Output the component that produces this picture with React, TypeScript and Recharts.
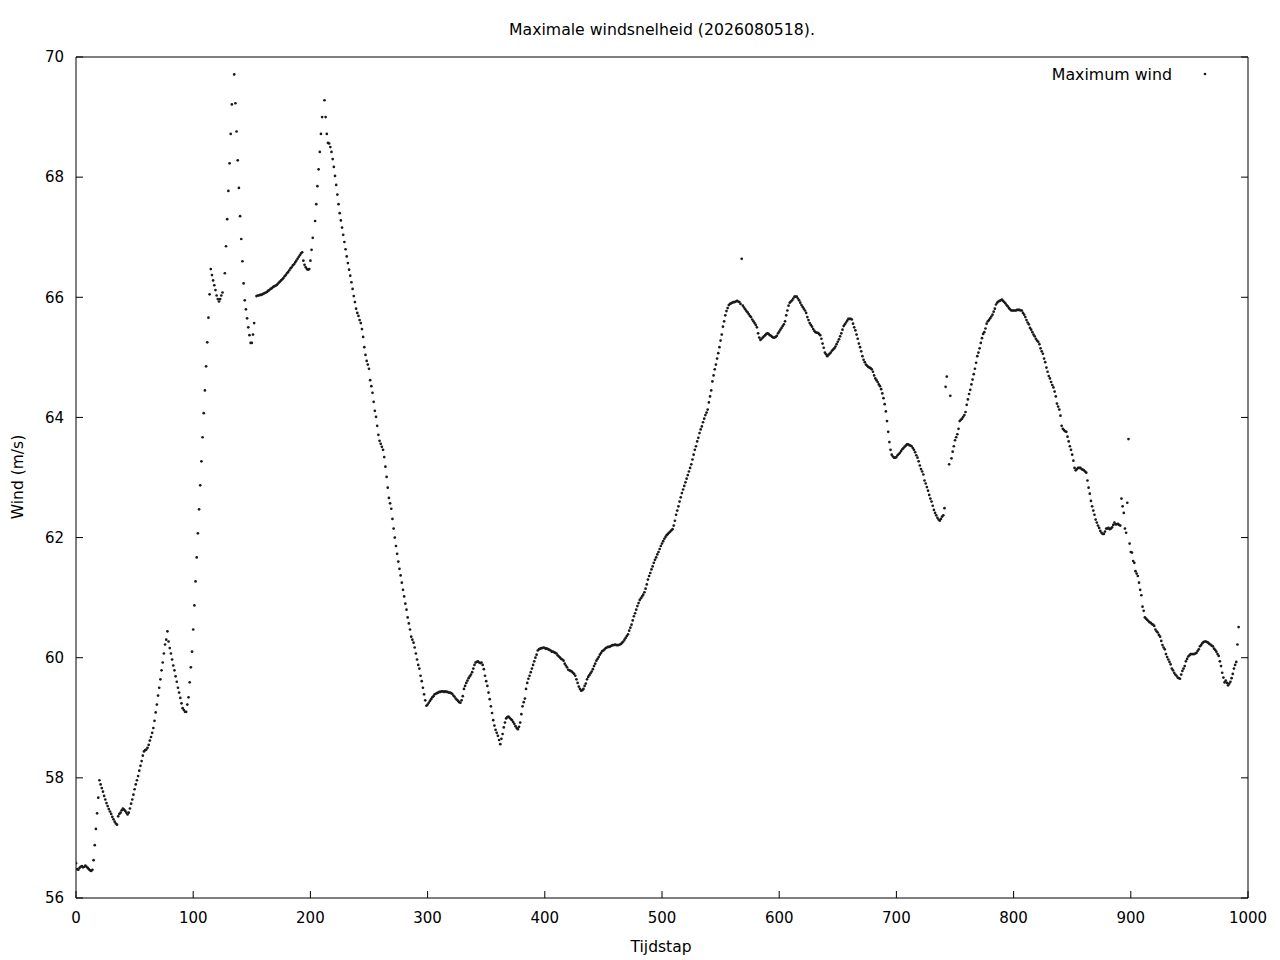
import React from "react";
import { ScatterChart, Scatter, XAxis, YAxis } from "recharts";

// Time-step of the first value in windValues
const firstStep = 0;

// Maximum wind (m/s) per time step; null = no point drawn at that step
const windValues: (number | null)[] = [
  56.58, 56.48, 56.47, 56.50, 56.52, 56.53, 56.51, 56.52, 56.54, 56.52,
  56.50, 56.48, 56.46, 56.45, 56.47, 56.63, 56.88, 57.15, 57.41, 57.67,
  57.96, 57.89, 57.83, 57.77, 57.70, 57.64, 57.58, 57.53, 57.48, 57.44,
  57.40, 57.35, 57.31, 57.27, 57.24, 57.22, 57.36, 57.40, 57.42, 57.46,
  57.49, 57.47, 57.45, 57.42, 57.39, 57.42, 57.49, 57.57, 57.64, 57.72,
  57.81, 57.89, 57.96, 58.03, 58.12, 58.20, 58.28, 58.37, 58.44, 58.46,
  58.47, 58.50, 58.55, 58.62, 58.68, 58.75, 58.83, 58.95, 59.09, 59.22,
  59.37, 59.50, 59.64, 59.79, 59.92, 60.07, 60.22, 60.30, 60.44, 60.27,
  60.16, 60.07, 59.97, 59.87, 59.79, 59.69, 59.60, 59.50, 59.42, 59.33,
  59.24, 59.16, 59.13, 59.10, 59.10, 59.22, 59.34, 59.59, 59.84, 60.10,
  60.47, 60.87, 61.27, 61.67, 62.07, 62.47, 62.87, 63.27, 63.67, 64.07,
  64.45, 64.85, 65.25, 65.66, 66.05, 66.47, 66.37, 66.28, 66.20, 66.12,
  66.03, 65.97, 65.93, 65.97, 66.03, 66.08, null, 66.40, 66.85, 67.30,
  67.77, 68.23, 68.72, 69.21, null, 69.71, 69.23, 68.76, 68.28, 67.82,
  67.35, 66.97, 66.60, 66.23, 65.95, 65.80, 65.65, 65.50, 65.37, 65.24,
  65.24, 65.38, 65.57, null, 66.02, 66.03, 66.03, 66.04, 66.04, 66.05,
  66.06, 66.07, 66.08, 66.09, 66.11, 66.12, 66.14, 66.15, 66.17, 66.18,
  66.19, 66.20, 66.22, 66.24, 66.26, 66.28, 66.30, 66.32, 66.35, 66.37,
  66.40, 66.42, 66.45, 66.48, 66.50, 66.53, 66.55, 66.58, 66.61, 66.64,
  66.67, 66.70, 66.73, 66.75, 66.61, 66.54, 66.50, 66.47, 66.46, 66.47,
  66.61, 66.79, 66.99, null, 67.27, 67.55, 67.85, 68.13, 68.42, 68.72,
  69.00, null, 69.28, 69.00, 68.72, 68.57, 68.56, 68.50, 68.42, 68.30,
  68.17, 68.02, 67.87, 67.71, 67.55, 67.40, 67.28, 67.16, 67.04, 66.92,
  66.80, 66.68, 66.57, 66.46, 66.36, 66.25, 66.14, 66.02, 65.92, 65.81,
  65.74, 65.69, 65.62, 65.57, 65.47, 65.34, 65.17, 65.04, 64.94, 64.88,
  64.81, 64.62, 64.52, 64.41, 64.26, 64.11, 64.01, 63.86, 63.71, 63.61,
  63.56, 63.51, 63.46, 63.34, 63.18, 63.01, 62.83, 62.66, 62.57, 62.48,
  62.31, 62.15, 62.00, 61.86, 61.73, 61.60, 61.48, 61.37, 61.25, 61.13,
  61.02, 60.90, 60.80, 60.67, 60.57, 60.47, 60.35, 60.30, 60.25, 60.17,
  60.07, 59.97, 59.88, 59.82, 59.70, 59.61, 59.50, 59.39, 59.29, 59.20,
  59.22, 59.25, 59.28, 59.31, 59.34, 59.36, 59.39, 59.40, 59.41, 59.42,
  59.43, 59.43, 59.44, 59.44, 59.43, 59.44, 59.43, 59.43, 59.42, 59.42,
  59.41, 59.40, 59.37, 59.35, 59.32, 59.30, 59.28, 59.26, 59.25, 59.29,
  59.36, 59.48, 59.53, 59.58, 59.62, 59.66, 59.69, 59.72, 59.76, 59.82,
  59.88, 59.92, 59.93, 59.94, 59.92, 59.91, 59.92, 59.88, 59.81, 59.70,
  59.61, 59.53, 59.42, 59.31, 59.19, 59.08, 58.96, 58.87, 58.80, 58.75,
  58.70, 58.63, 58.56, 58.65, 58.73, 58.84, 58.92, 58.99, 59.01, 59.02,
  59.00, 58.98, 58.96, 58.93, 58.90, 58.86, 58.83, 58.81, 58.85, 58.92,
  59.06, 59.19, 59.26, 59.32, 59.48, 59.58, 59.65, 59.70, 59.76, 59.82,
  59.88, 59.94, 60.00, 60.05, 60.12, 60.14, 60.15, 60.16, 60.16, 60.17,
  60.16, 60.15, 60.15, 60.14, 60.13, 60.12, 60.10, 60.10, 60.09, 60.08,
  60.07, 60.04, 60.02, 60.00, 59.98, 59.97, 59.95, 59.90, 59.87, 59.84,
  59.80, 59.79, 59.78, 59.77, 59.75, 59.73, 59.70, 59.64, 59.58, 59.52,
  59.48, 59.45, 59.46, 59.48, 59.53, 59.57, 59.64, 59.68, 59.71, 59.74,
  59.77, 59.81, 59.86, 59.90, 59.95, 59.98, 60.01, 60.05, 60.08, 60.11,
  60.12, 60.14, 60.16, 60.17, 60.18, 60.18, 60.19, 60.20, 60.21, 60.21,
  60.22, 60.21, 60.21, 60.21, 60.22, 60.23, 60.25, 60.27, 60.30, 60.33,
  60.36, 60.39, 60.45, 60.50, 60.55, 60.62, 60.69, 60.74, 60.80, 60.86,
  60.91, 60.96, 60.99, 61.02, 61.05, 61.09, 61.15, 61.22, 61.30, 61.36,
  61.41, 61.47, 61.52, 61.58, 61.63, 61.67, 61.72, 61.76, 61.81, 61.86,
  61.90, 61.94, 61.98, 62.01, 62.04, 62.06, 62.08, 62.10, 62.12, 62.14,
  62.20, 62.28, 62.38, 62.45, 62.52, 62.60, 62.67, 62.74, 62.80, 62.86,
  62.92, 62.98, 63.04, 63.10, 63.16, 63.22, 63.30, 63.38, 63.46, 63.52,
  63.60, 63.66, 63.74, 63.80, 63.85, 63.92, 63.98, 64.04, 64.08, 64.13,
  64.25, 64.35, 64.45, 64.60, 64.70, 64.80, 64.88, 64.98, 65.07, 65.17,
  65.28, 65.38, 65.51, 65.60, 65.70, 65.77, 65.82, 65.87, 65.89, 65.90,
  65.91, 65.92, 65.92, 65.93, 65.94, 65.93, 65.92, 65.89, 66.64, 65.86,
  65.83, 65.80, 65.77, 65.75, 65.72, 65.69, 65.67, 65.63, 65.60, 65.57,
  65.54, 65.50, 65.40, 65.33, 65.29, 65.31, 65.33, 65.35, 65.37, 65.39,
  65.40, 65.39, 65.37, 65.36, 65.34, 65.33, 65.33, 65.34, 65.36, 65.40,
  65.43, 65.46, 65.49, 65.52, 65.55, 65.60, 65.70, 65.78, 65.86, 65.91,
  65.93, 65.95, 65.98, 66.01, 66.01, 66.01, 65.98, 65.95, 65.91, 65.87,
  65.84, 65.81, 65.78, 65.74, 65.67, 65.62, 65.57, 65.54, 65.51, 65.47,
  65.44, 65.42, 65.41, 65.41, 65.39, 65.37, 65.31, 65.23, 65.16, 65.08,
  65.05, 65.02, 65.04, 65.06, 65.08, 65.11, 65.13, 65.15, 65.18, 65.22,
  65.26, 65.30, 65.35, 65.40, 65.46, 65.52, 65.55, 65.58, 65.61, 65.64,
  65.64, 65.64, 65.63, 65.56, 65.50, 65.45, 65.38, 65.31, 65.23, 65.17,
  65.10, 65.02, 64.96, 64.92, 64.88, 64.86, 64.84, 64.83, 64.82, 64.80,
  64.76, 64.70, 64.65, 64.62, 64.59, 64.55, 64.52, 64.47, 64.40, 64.32,
  64.22, 64.10, 63.94, 63.76, 63.59, 63.46, 63.38, 63.35, 63.33, 63.33,
  63.34, 63.37, 63.39, 63.41, 63.44, 63.47, 63.49, 63.51, 63.53, 63.55,
  63.55, 63.54, 63.53, 63.52, 63.49, 63.46, 63.42, 63.37, 63.33, 63.27,
  63.20, 63.14, 63.10, 63.05, 62.95, 62.90, 62.84, 62.78, 62.71, 62.65,
  62.60, 62.53, 62.46, 62.41, 62.37, 62.33, 62.30, 62.28, 62.31, 62.35,
  62.37, 62.49, 64.51, 64.68, null, 63.22, 64.36, 63.32, 63.43, 63.52,
  63.62, 63.67, 63.72, 63.81, 63.94, 63.96, 63.98, 64.01, 64.04, 64.09,
  64.21, 64.30, 64.39, 64.46, 64.55, 64.63, 64.72, 64.81, 64.91, 65.02,
  65.08, 65.15, 65.24, 65.32, 65.39, 65.42, 65.48, 65.56, 65.60, 65.62,
  65.65, 65.68, 65.71, 65.76, 65.81, 65.88, 65.91, 65.93, 65.94, 65.95,
  65.96, 65.94, 65.92, 65.90, 65.87, 65.85, 65.82, 65.80, 65.78, 65.78,
  65.78, 65.78, 65.78, 65.79, 65.79, 65.79, 65.78, 65.78, 65.74, 65.71,
  65.67, 65.62, 65.58, 65.55, 65.49, 65.46, 65.42, 65.38, 65.35, 65.31,
  65.28, 65.26, 65.22, 65.15, 65.10, 65.06, 64.98, 64.92, 64.83, 64.76,
  64.69, 64.65, 64.59, 64.54, 64.50, 64.43, 64.35, 64.23, 64.18, 64.13,
  64.03, 63.86, 63.81, 63.79, 63.77, 63.76, 63.68, 63.60, 63.52, 63.46,
  63.38, 63.28, 63.16, 63.12, 63.14, 63.16, 63.16, 63.16, 63.14, 63.13,
  63.12, 63.10, 63.08, 62.95, 62.83, 62.73, 62.61, 62.52, 62.45, 62.38,
  62.30, 62.25, 62.20, 62.16, 62.11, 62.08, 62.06, 62.06, 62.10, 62.15,
  62.15, 62.16, 62.14, 62.15, 62.17, 62.21, 62.25, 62.22, 62.22, 62.23,
  62.21, 62.20, 62.65, 62.52, 62.41, 62.15, 62.08, 62.58, 63.64, 61.90,
  61.76, 61.75, 61.61, 61.58, 61.44, 61.40, 61.36, 61.25, 61.13, 61.04,
  60.85, 60.78, 60.67, 60.65, 60.63, 60.61, 60.59, 60.58, 60.56, 60.55,
  60.53, 60.47, 60.44, 60.42, 60.38, 60.35, 60.28, 60.21, 60.17, 60.14,
  60.06, 60.01, 59.97, 59.93, 59.89, 59.82, 59.79, 59.75, 59.72, 59.70,
  59.67, 59.66, 59.65, 59.72, 59.78, 59.82, 59.86, 59.94, 59.98, 60.02,
  60.04, 60.06, 60.06, 60.06, 60.06, 60.07, 60.08, 60.11, 60.14, 60.19,
  60.21, 60.24, 60.26, 60.27, 60.27, 60.26, 60.25, 60.23, 60.22, 60.20,
  60.19, 60.15, 60.13, 60.10, 60.06, 60.03, 59.94, 59.86, 59.75, 59.67,
  59.59, 59.62, 59.58, 59.54, 59.57, 59.60, 59.66, 59.73, 59.82, 59.88,
  59.93, 60.22, 60.51,
];

const xTicks = [0, 100, 200, 300, 400, 500, 600, 700, 800, 900, 1000];
const yTicks = [56, 58, 60, 62, 64, 66, 68, 70];

const titleText = "Maximale windsnelheid (2026080518).";
const xLabel = "Tijdstap";
const yLabel = "Wind (m/s)";
const seriesName = "Maximum wind";

type Pt = { x: number; y: number };
const data: Pt[] = windValues
  .map((v, i) => (v === null ? null : { x: firstStep + i, y: v }))
  .filter((p): p is Pt => p !== null);

const FONT = "'DejaVu Sans', 'Liberation Sans', sans-serif";
const tickStyle = { fill: "#000", fontSize: 15, fontFamily: FONT };

const Dot = (props: any) => {
  const { cx, cy } = props;
  if (cx == null || cy == null) return null;
  return <circle cx={cx} cy={cy} r={1.35} fill="#1a1a1a" />;
};

export default function App() {
  return (
    <div style={{ position: "absolute", left: 0, top: 0, width: 1280, height: 960, background: "#fff" }}>
      <ScatterChart
        width={1280}
        height={960}
        margin={{ top: 56, right: 31, bottom: 32, left: 16 }}
      >
        <XAxis
          xAxisId="bottom"
          type="number"
          dataKey="x"
          domain={[0, 1000]}
          ticks={xTicks}
          interval={0}
          allowDataOverflow
          height={30}
          stroke="#000"
          tickSize={-7}
          tickMargin={21}
          tick={tickStyle}
        />
        <XAxis
          xAxisId="top"
          orientation="top"
          type="number"
          domain={[0, 1000]}
          ticks={xTicks}
          interval={0}
          allowDataOverflow
          height={1}
          stroke="#000"
          tickSize={-7}
          tickFormatter={() => ""}
          tick={tickStyle}
        />
        <YAxis
          yAxisId="left"
          type="number"
          dataKey="y"
          domain={[56, 70]}
          ticks={yTicks}
          interval={0}
          allowDataOverflow
          width={60}
          stroke="#000"
          tickSize={-7}
          tickMargin={19}
          tick={tickStyle}
        />
        <YAxis
          yAxisId="right"
          orientation="right"
          type="number"
          domain={[56, 70]}
          ticks={yTicks}
          interval={0}
          allowDataOverflow
          width={1}
          stroke="#000"
          tickSize={-7}
          tickFormatter={() => ""}
          tick={tickStyle}
        />
        <Scatter
          name={seriesName}
          data={data}
          xAxisId="bottom"
          yAxisId="left"
          shape={<Dot />}
          isAnimationActive={false}
        />
      </ScatterChart>
      <svg
        width={1280}
        height={960}
        style={{ position: "absolute", left: 0, top: 0, pointerEvents: "none" }}
      >
        <text x={662} y={35} textAnchor="middle" fontSize={15.7} fontFamily={FONT} fill="#000">
          {titleText}
        </text>
        <text x={661} y={952} textAnchor="middle" fontSize={15.5} fontFamily={FONT} fill="#000">
          {xLabel}
        </text>
        <text
          x={23}
          y={477}
          textAnchor="middle"
          fontSize={15.5}
          fontFamily={FONT}
          fill="#000"
          transform="rotate(-90 23 477)"
        >
          {yLabel}
        </text>
        <text x={1172} y={80} textAnchor="end" fontSize={15.8} fontFamily={FONT} fill="#000">
          {seriesName}
        </text>
        <circle cx={1205} cy={74} r={1.35} fill="#1a1a1a" />
      </svg>
    </div>
  );
}
